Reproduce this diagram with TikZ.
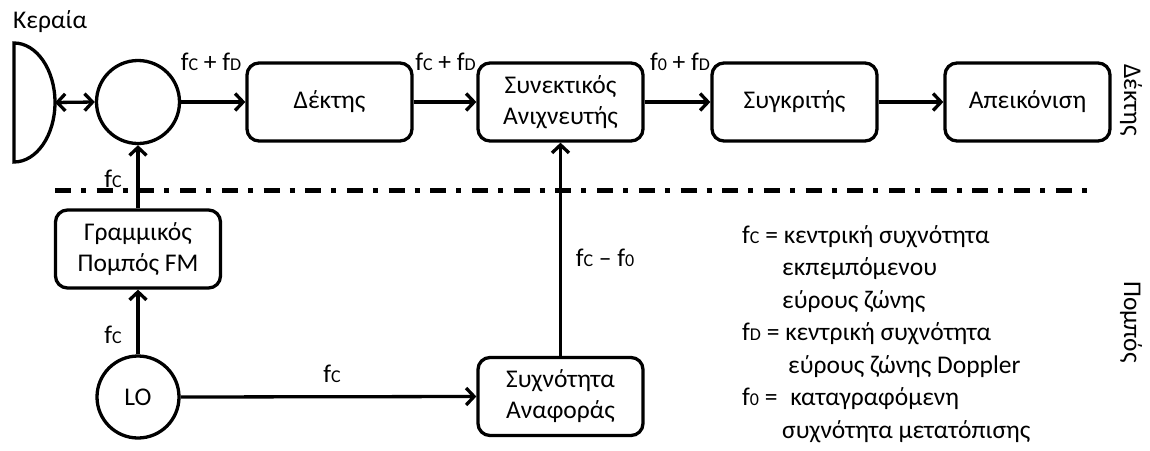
\documentclass[tikz,border=0pt]{standalone}
\usepackage{fontspec}
\setmainfont{Carlito}
\usetikzlibrary{arrows.meta}
\newcommand{\fsb}[1]{{\fontsize{18}{18}\selectfont #1}}
\begin{document}
\begin{tikzpicture}[x=1pt,y=-1pt,
  every node/.style={font=\fontsize{25.5}{31}\selectfont, inner sep=0pt},
  blk/.style={draw, line width=3.3pt, rounded corners=12pt, minimum width=165pt, minimum height=78pt, align=center},
  circ/.style={draw, circle, line width=3.3pt, minimum size=83pt},
  conn/.style={line width=3.3pt, -{Straight Barb[length=8pt,width=17pt]}},
  lbl/.style={anchor=base},
  leg/.style={anchor=base west}]
\useasboundingbox (0,0) rectangle (1150,450);
% blocks
\node[blk] (dek) at (329.5,102) {Δέκτης};
\node[blk] (syn) at (560.5,102) {Συνεκτικός\\Ανιχνευτής};
\node[blk] (sygk) at (794.5,102) {Συγκριτής};
\node[blk] (apei) at (1027.5,102) {Απεικόνιση};
\node[blk] (gram) at (138,249) {Γραμμικός\\Πομπός FM};
\node[blk] (ref) at (560.5,396.5) {Συχνότητα\\Αναφοράς};
\node[circ] (circ) at (138,102) {};
\node[circ, minimum size=82pt] (lo) at (138,397) {LO};
% antenna
\draw[line width=3.3pt] (14,43) .. controls (36.6,43) and (55,69.7) .. (55,102.5)
   .. controls (55,135.3) and (36.6,162) .. (14,162) -- cycle;
\coordinate (antR) at (55,102.5);
\node[leg] (ker) at (13,28) {Κεραία};
% connectors
\draw[line width=3.3pt, {Straight Barb[length=8pt,width=17pt]}-{Straight Barb[length=8pt,width=17pt]}] (antR) -- (circ.west);
\draw[conn] (circ.east) -- (dek.west);
\draw[conn] (dek.east) -- (syn.west);
\draw[conn] (syn.east) -- (sygk.west);
\draw[conn] (sygk.east) -- (apei.west);
\draw[conn] (gram.north) -- (circ.south);
\draw[conn] (lo.north) -- (gram.south);
\draw[conn] (lo.east) -- (ref.west);
\draw[conn] (ref.north) -- (syn.south);
% separator
\coordinate (dl) at (55,190);
\coordinate (dr) at (1093,190);
\draw[line width=5pt, dash pattern=on 16pt off 10pt on 5pt off 10.7pt] (dl) -- (dr);
% labels
\node[lbl] (l1) at (211,70) {f\fsb{C} + f\fsb{D}};
\node[lbl] (l2) at (445.5,70) {f\fsb{C} + f\fsb{D}};
\node[lbl] (l3) at (680,70) {f\fsb{0} + f\fsb{D}};
\node[lbl] (l4) at (113,187) {f\fsb{C}};
\node[lbl] (l5) at (113,343) {f\fsb{C}};
\node[lbl] (l6) at (332,382) {f\fsb{C}};
\node[lbl] (l7) at (605,266) {f\fsb{C} – f\fsb{0}};
% legend
\node[leg] (g1) at (742,243) {f\fsb{C} = κεντρική συχνότητα};
\node[leg] (g2) at (782,275.5) {εκπεμπόμενου};
\node[leg] (g3) at (782,308) {εύρους ζώνης};
\node[leg] (g4) at (742,340.5) {f\fsb{D} = κεντρική συχνότητα};
\node[leg] (g5) at (788,373) {εύρους ζώνης Doppler};
\node[leg] (g6) at (742,405.5) {f\fsb{0} = \hspace{7pt}καταγραφόμενη};
\node[leg] (g7) at (782,438) {συχνότητα μετατόπισης};
% side labels
\node[rotate=-90] (vdek) at (1131,100) {Δέκτης};
\node[rotate=-90] (vpom) at (1131,322) {Πομπός};
\end{tikzpicture}
\end{document}
